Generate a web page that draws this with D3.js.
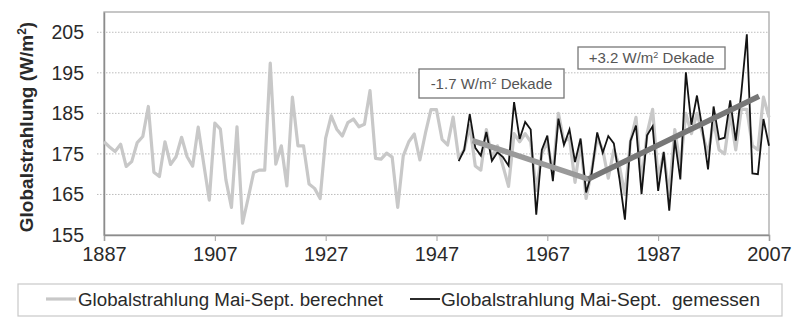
<!DOCTYPE html>
<html><head><meta charset="utf-8">
<script src="https://cdn.jsdelivr.net/npm/d3@7"></script>
<style>
html,body{margin:0;padding:0;background:#fff;}
svg{display:block;}
text{font-family:"Liberation Sans",Arial,sans-serif;}
</style></head>
<body>
<svg id="chart" width="800" height="327"></svg>
<script>
// ---- data ----
const calcStart = 1887;
const calcValues = [
 178,176.7,175.6,177.4,171.9,173.1,177.8,179.3,186.7,170.5,
 169.4,178,172.4,174.3,179.1,174.3,172,181.6,172.5,163.6,
 182.6,181.1,168.6,161.8,181.7,157.9,164,170.4,171,171,
 197.4,172.5,177,167.1,189,177,177,167.6,166.5,164,
 178.9,184.4,181.1,179.4,182.7,183.6,181.7,182.3,190.6,173.9,
 173.7,175.2,174.2,161.8,174.5,178,179.9,173.5,180.1,185.9,
 185.9,178.6,177.2,184.1,174,176,182,172,171,181,
 174,177,172,167,180,178,180,178,166,175,
 178,170,185,178,179,168,178,164,171,179,
 176,169,176,172,165,178,184,168,180,186,
 169,175,165,181,172,185,180,185,180,175,
 183,176,175,185,176,186,186,177,176,189,184
];
const measStart = 1951;
const measValues = [
 173.2,176,184.8,176.5,174.6,180.4,173.3,175.4,174.2,172.1,
 187.8,178.7,182.9,181,160,176,179.5,168.3,183.7,177.2,
 181,173,178.8,165.5,170.2,180.3,175.3,179.4,177.6,169,
 158.8,178.2,182,165.1,179.6,181.8,165.9,175.5,161,178.5,
 168.7,195.1,182.2,189.4,181,171.2,186.7,178.6,179,188.2,
 178.3,190,204.5,170.2,170,183.6,177
];
const trendYears = [1953.5, 1974.4, 2005.2];
const trendValues = [178.3, 168.8, 189.2];
const yTicks = [155,165,175,185,195,205];
const xTicks = [1887,1907,1927,1947,1967,1987,2007];
const trendLabels = ["-1.7 W/m² Dekade", "+3.2 W/m² Dekade"];
const legendLabels = ["Globalstrahlung Mai-Sept. berechnet", "Globalstrahlung Mai-Sept.\u00a0 gemessen"];

const calc = calcValues.map((v,i)=>({year:calcStart+i, v}));
const meas = measValues.map((v,i)=>({year:measStart+i, v}));
const trend = trendYears.map((y,i)=>({year:y, v:trendValues[i]}));

// ---- layout ----
const L=104, R=769, T=12, B=235;
const svg = d3.select("#chart");
const x = d3.scaleLinear().domain([1887,2007]).range([L,R]);
const y = d3.scaleLinear().domain([155,210]).range([B,T]);

// grid
svg.append("g").selectAll("line").data(yTicks.filter(d=>d>155)).join("line")
  .attr("x1",L-7).attr("x2",R).attr("y1",d=>y(d)).attr("y2",d=>y(d))
  .attr("stroke","#bdbdbd").attr("stroke-width",1).attr("stroke-dasharray","1.5,1.5");

// frame (top/right)
svg.append("rect").attr("x",L).attr("y",T).attr("width",R-L).attr("height",B-T)
  .attr("fill","none").attr("stroke","#a8a8a8").attr("stroke-width",1.3);

// axes
const xAxis = d3.axisBottom(x).tickValues(xTicks).tickFormat(d3.format("d")).tickSize(6).tickPadding(6);
const gx = svg.append("g").attr("transform",`translate(0,${B})`).call(xAxis);
gx.select(".domain").attr("stroke","#8c8c8c").attr("stroke-width",1.5);
gx.selectAll(".tick line").attr("stroke","#a0a0a0");
gx.selectAll("text").attr("font-size",20).attr("fill","#2a2a2a")
  .attr("font-family",'"Liberation Sans",Arial,sans-serif');

const yAxis = d3.axisLeft(y).tickValues(yTicks).tickSize(0).tickPadding(20);
const gy = svg.append("g").attr("transform",`translate(${L},0)`).call(yAxis);
gy.select(".domain").attr("stroke","#8c8c8c").attr("stroke-width",1.5);
gy.selectAll("text").attr("font-size",19.5).attr("fill","#2a2a2a")
  .attr("font-family",'"Liberation Sans",Arial,sans-serif');

// y title
const yt = svg.append("text").attr("transform",`translate(33,127) rotate(-90)`)
  .attr("text-anchor","middle").attr("font-size",19).attr("font-weight","bold")
  .attr("fill","#2a2a2a");
yt.append("tspan").text("Globalstrahlung (W/m");
yt.append("tspan").attr("baseline-shift","super").attr("font-size",12).text("2");
yt.append("tspan").text(")");

// series
const line = d3.line().x(d=>x(d.year)).y(d=>y(d.v));
svg.append("path").datum(calc).attr("d",line).attr("fill","none")
  .attr("stroke","#c8c8c8").attr("stroke-width",3.2).attr("stroke-linejoin","round");
svg.append("path").datum(meas).attr("d",line).attr("fill","none")
  .attr("stroke","#141414").attr("stroke-width",1.8).attr("stroke-linejoin","miter");

// trend
svg.append("path").datum(trend.slice(0,2)).attr("d",line).attr("fill","none")
  .attr("stroke","#9a9a9a").attr("stroke-width",5.5);
svg.append("path").datum(trend.slice(1)).attr("d",line).attr("fill","none")
  .attr("stroke","#777777").attr("stroke-width",5.5);

// annotation boxes
const boxes = [
  {x:419, y:69, w:145, h:29, label:0},
  {x:578, y:47, w:147, h:22, label:1}
];
boxes.forEach(b=>{
  const g = svg.append("g");
  g.append("rect").attr("x",b.x).attr("y",b.y).attr("width",b.w).attr("height",b.h)
    .attr("fill","#fff").attr("stroke","#777").attr("stroke-width",1.3);
  const parts = trendLabels[b.label].split("²");
  const t = g.append("text").attr("x",b.x+b.w/2).attr("y",b.y+b.h/2+5)
    .attr("text-anchor","middle").attr("font-size",15).attr("fill","#555")
    .attr("font-family",'"Open Sans","DejaVu Sans",sans-serif');
  t.append("tspan").text(parts[0]);
  t.append("tspan").attr("dy",-5).attr("font-size",9).text("2");
  t.append("tspan").attr("dy",5).text(parts[1]);
});

// legend
svg.append("rect").attr("x",18).attr("y",284).attr("width",764).attr("height",32)
  .attr("fill","#fff").attr("stroke","#c8c8c8").attr("stroke-width",1.2);
const leg = [
  {x1:46, x2:76, color:"#c8c8c8", w:3.2, tx:78, len:305},
  {x1:410, x2:440, color:"#141414", w:1.8, tx:441, len:319}
];
leg.forEach((l,i)=>{
  svg.append("line").attr("x1",l.x1).attr("x2",l.x2).attr("y1",299).attr("y2",299)
    .attr("stroke",l.color).attr("stroke-width",l.w);
  svg.append("text").attr("x",l.tx).attr("y",305.5).attr("font-size",18)
    .attr("textLength",l.len).attr("lengthAdjust","spacingAndGlyphs")
    .attr("fill","#2a2a2a").text(legendLabels[i]);
});
</script>
</body></html>
